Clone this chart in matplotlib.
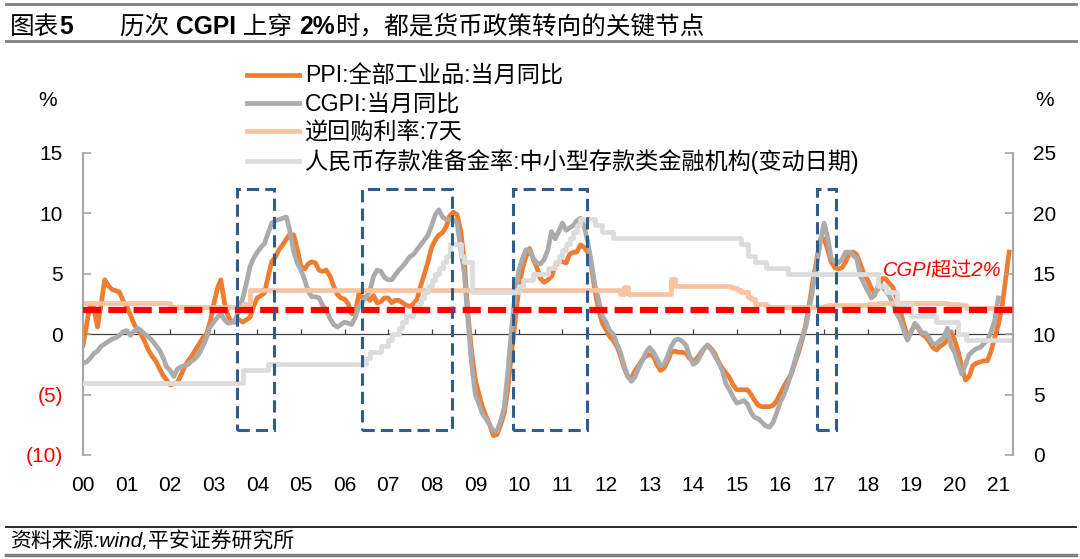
import matplotlib
matplotlib.use("Agg")
import pandas as pd
import matplotlib.pyplot as plt
import matplotlib.dates as mdates
from matplotlib.patches import Rectangle
from matplotlib.lines import Line2D

plt.rcParams['font.family'] = ['Liberation Sans', 'Noto Sans CJK SC']

# PPI:全部工业品:当月同比, monthly from 2000-01
ppi = [
    -0.9, 0.8, 2.5, 2.2, 0.6, 2.5, 4.5, 4.0, 3.7, 3.6, 3.5, 2.8,      # 2000
    2.3, 1.6, 0.9, 0.3, 0.0, -0.6, -1.3, -1.8, -2.2, -2.8, -3.4, -3.8,  # 2001
    -4.2, -4.1, -4.0, -3.4, -2.7, -2.2, -1.8, -1.3, -0.8, -0.3, 0.0, 1.0,  # 2002
    2.5, 3.8, 4.5, 2.6, 1.5, 1.0, 1.0, 1.2, 1.0, 1.2, 1.4, 2.3,       # 2003
    3.0, 3.2, 3.4, 4.8, 6.0, 6.4, 7.0, 7.4, 7.9, 8.3, 8.2, 7.0,       # 2004
    5.6, 5.4, 5.8, 6.0, 5.9, 5.3, 5.2, 5.3, 4.8, 4.0, 3.3, 3.0,       # 2005
    2.9, 2.5, 1.7, 1.7, 3.4, 3.0, 3.1, 2.8, 3.2, 2.6, 2.7, 3.0,       # 2006
    3.0, 2.6, 2.8, 2.8, 2.6, 2.4, 2.3, 2.5, 2.9, 4.0, 5.0, 6.0,       # 2007
    7.2, 7.8, 8.2, 8.4, 8.9, 9.8, 10.1, 9.9, 8.5, 6.0, 1.5, -1.5,     # 2008
    -3.8, -5.0, -6.0, -6.8, -7.5, -8.4, -8.3, -7.5, -6.5, -4.4, -1.5, 1.2,  # 2009
    3.8, 5.5, 6.4, 7.1, 6.2, 5.5, 4.6, 4.3, 4.5, 4.8, 5.6, 6.0,       # 2010
    6.0, 5.9, 6.6, 6.8, 6.8, 7.4, 7.2, 6.8, 5.6, 3.5, 2.0, 0.9,       # 2011
    0.4, -0.2, -0.5, -1.0, -1.8, -2.8, -3.5, -3.6, -3.0, -2.6, -2.1, -1.8,  # 2012
    -1.7, -1.8, -2.5, -3.0, -2.8, -2.2, -1.5, -1.4, -1.5, -1.5, -1.6, -2.0,  # 2013
    -2.2, -2.0, -1.6, -1.2, -0.9, -1.2, -1.6, -2.3, -2.8, -3.2, -3.6, -4.2,  # 2014
    -4.6, -4.6, -4.6, -4.6, -5.0, -5.5, -5.9, -6.0, -6.0, -6.0, -5.9, -5.5,  # 2015
    -4.9, -4.3, -3.8, -3.3, -2.4, -1.5, -0.5, 0.8, 2.6, 4.5, 6.2, 7.9,  # 2016
    7.9, 7.0, 6.0, 5.5, 5.4, 5.5, 6.0, 6.7, 6.8, 6.6, 5.8, 5.0,       # 2017
    4.5, 3.8, 3.4, 3.8, 4.6, 4.6, 4.2, 3.9, 3.0, 2.0, 0.8, -0.2,      # 2018
    0.2, 0.8, 0.5, 0.0, -0.2, -0.6, -1.1, -1.3, -1.0, -0.8, -0.5, 0.2,  # 2019
    -0.5, -1.5, -2.8, -3.8, -3.5, -2.6, -2.4, -2.3, -2.2, -2.2, -1.4, -0.3,  # 2020
    0.8, 2.3, 4.4, 6.8,                                              # 2021
]

# CGPI:当月同比, monthly from 2000-01
cgpi = [
    -2.4, -2.3, -2.0, -1.6, -1.4, -1.0, -0.8, -0.6, -0.4, -0.3, -0.1, 0.2,  # 2000
    0.3, -0.1, 0.2, 0.5, 0.3, 0.0, -0.2, -0.5, -0.9, -1.3, -1.9, -2.7,  # 2001
    -3.0, -3.5, -2.9, -2.7, -2.6, -2.5, -2.2, -2.0, -1.6, -1.0, -0.3, 0.6,  # 2002
    1.0, 1.4, 1.7, 1.2, 0.9, 1.0, 1.2, 2.0, 3.0, 4.2, 5.6, 6.3,       # 2003
    6.8, 7.2, 7.5, 8.4, 9.2, 9.4, 9.5, 9.6, 9.7, 8.5, 6.8, 5.9,       # 2004
    5.3, 4.5, 3.6, 3.1, 3.1, 3.0, 2.4, 2.0, 1.3, 0.8, 0.6, 0.8,       # 2005
    1.0, 0.9, 0.8, 1.4, 2.3, 2.7, 3.1, 3.6, 4.8, 5.3, 5.2, 4.7,       # 2006
    4.5, 4.5, 4.9, 5.3, 5.6, 6.0, 6.4, 6.6, 7.0, 7.4, 7.8, 8.2,       # 2007
    9.0, 9.9, 10.3, 9.7, 9.5, 9.5, 9.5, 9.2, 7.0, 5.0, 1.0, -2.5,     # 2008
    -5.0, -5.8, -6.6, -7.0, -7.5, -8.0, -8.0, -7.2, -6.0, -3.0, 0.5, 3.5,  # 2009
    5.3, 6.3, 7.0, 6.9, 6.3, 5.9, 5.8, 6.2, 7.0, 8.5, 7.9, 8.5,       # 2010
    9.2, 8.6, 8.8, 9.0, 9.4, 9.6, 9.0, 7.6, 5.9, 4.0, 2.8, 1.5,       # 2011
    1.0, 0.3, 0.0, -0.8, -1.5, -2.6, -3.5, -3.9, -3.5, -2.8, -2.2, -1.5,  # 2012
    -1.1, -1.5, -2.0, -2.6, -2.5, -1.8, -1.0, -0.5, -0.4, -0.6, -0.9, -1.8,  # 2013
    -2.5, -2.3, -1.8, -1.2, -0.9, -1.3, -1.8, -2.3, -3.0, -4.1, -4.6, -5.2,  # 2014
    -5.7, -5.6, -5.5, -5.8, -6.5, -6.9, -7.0, -7.3, -7.6, -7.7, -7.3, -6.5,  # 2015
    -5.6, -5.0, -4.2, -3.3, -2.2, -1.2, -0.3, 0.6, 2.2, 3.9, 5.8, 7.6,  # 2016
    9.2, 8.0, 6.3, 6.0, 5.9, 6.2, 6.8, 6.8, 6.5, 6.3, 4.8, 4.2,       # 2017
    3.6, 3.0, 3.2, 4.1, 4.0, 3.6, 3.2, 2.5, 1.7, 1.2, 0.3, -0.5,      # 2018
    0.2, 0.9, 0.6, 0.1, 0.1, -0.3, -0.8, -0.8, -0.5, -0.3, 0.5, -1.0,  # 2019
    -1.5, -2.5, -3.3, -2.5, -1.7, -1.4, -1.2, -1.1, -0.8, -0.5, 0.2, 1.1,  # 2020
    3.0,                                                             # 2021
]

# 逆回购利率:7天 (change dates and level)
repo_dates = ['2000-01', '2002-01', '2003-09', '2003-11', '2012-05', '2012-06',
              '2012-07', '2013-07', '2013-08', '2014-11', '2014-12', '2015-01',
              '2015-02', '2015-04', '2015-05', '2015-06', '2015-09', '2015-10',
              '2017-01', '2017-02', '2017-03', '2018-01', '2018-04', '2019-11',
              '2020-02', '2020-04', '2021-05']
repo_rate = [2.6, 2.25, 2.5, 3.7, 3.35, 3.9,
             3.35, 4.6, 4.0, 3.9, 3.8, 3.65,
             3.5, 3.1, 2.9, 2.5, 2.35, 2.25,
             2.3, 2.4, 2.45, 2.5, 2.55, 2.5,
             2.4, 2.2, 2.2]

# 人民币存款准备金率:中小型存款类金融机构 (change dates and level, right axis)
rrr_dates = ['2000-01', '2003-09', '2004-04', '2006-07', '2006-08', '2006-11',
             '2007-01', '2007-02', '2007-04', '2007-05', '2007-06', '2007-08',
             '2007-09', '2007-10', '2007-11', '2007-12', '2008-01', '2008-02',
             '2008-03', '2008-04', '2008-05', '2008-06', '2008-09', '2008-10',
             '2008-12', '2010-01', '2010-02', '2010-05', '2010-09', '2010-11',
             '2010-12', '2011-01', '2011-02', '2011-03', '2011-04', '2011-05',
             '2011-06', '2011-10', '2011-12', '2012-03', '2015-02', '2015-04',
             '2015-06', '2015-09', '2016-03', '2018-04', '2018-06', '2018-09',
             '2019-01', '2019-08', '2020-02', '2020-04', '2021-05']
rrr_rate = [6.0, 7.0, 7.5, 8.0, 8.5, 9.0,
            9.5, 10.0, 10.5, 11.0, 11.5, 12.0,
            12.5, 13.0, 13.5, 14.0, 14.5, 15.0,
            15.5, 16.0, 16.5, 17.5, 16.5, 16.0,
            13.5, 14.0, 14.5, 15.0, 15.5, 16.0,
            16.5, 17.0, 17.5, 18.0, 18.5, 19.0,
            19.5, 19.0, 18.5, 18.0, 17.5, 16.5,
            16.0, 15.5, 15.0, 14.0, 13.5, 12.5,
            11.5, 11.0, 10.0, 9.5, 9.5]

# periods where CGPI crossed 2% (highlight boxes)
box_spans = [('2003-07-12', '2004-05-18'), ('2006-05-26', '2008-06-21'),
             ('2009-11-12', '2011-07-22'), ('2016-10-31', '2017-04-08')]
box_low, box_high = -7.9, 12.0

years = list(range(2000, 2022))
year_labels = ['%02d' % (y % 100) for y in years]
left_ticks = [15, 10, 5, 0, -5, -10]
left_labels = ['15', '10', '5', '0', '(5)', '(10)']
right_ticks = [25, 20, 15, 10, 5, 0]
threshold = 2

names = ['PPI:全部工业品:当月同比', 'CGPI:当月同比', '逆回购利率:7天',
         '人民币存款准备金率:中小型存款类金融机构(变动日期)']
colors = ['#ED7D31', '#ABABAB', '#F7C3A0', '#DCDCDC']

W, H = 1080, 559
fig = plt.figure(figsize=(W / 100, H / 100), dpi=100)
ax = fig.add_axes([83 / W, 104 / H, 929.7 / W, 302 / H])
ax2 = ax.twinx()

x_ppi = pd.date_range('2000-01-01', periods=len(ppi), freq='MS')
x_cgpi = pd.date_range('2000-01-01', periods=len(cgpi), freq='MS')
lw = 3.4
l1, = ax.plot(x_ppi, ppi, color=colors[0], lw=lw, solid_joinstyle='round')
l2, = ax.plot(x_cgpi, cgpi, color=colors[1], lw=lw, solid_joinstyle='round')
l3, = ax.plot(pd.to_datetime(repo_dates), repo_rate, color=colors[2], lw=lw,
              drawstyle='steps-post')
l4, = ax2.plot(pd.to_datetime(rrr_dates), rrr_rate, color=colors[3], lw=lw,
               drawstyle='steps-post')
ax.axhline(0, color='#404040', lw=0.9, zorder=0.5)

# red 2% line and boxes on top of everything
ax2.plot(pd.to_datetime(['2000-01-01', '2021-06-15']), [threshold, threshold],
         transform=ax.transData, color='#FF0000', lw=4.5, dashes=(2.9, 1.15),
         clip_on=False, zorder=5)
for s, e in box_spans:
    x0 = mdates.date2num(pd.Timestamp(s))
    x1 = mdates.date2num(pd.Timestamp(e))
    ax2.add_patch(Rectangle((x0, box_low), x1 - x0, box_high - box_low,
                            transform=ax.transData, fill=False,
                            edgecolor='#2F5C8C', lw=2.2, linestyle=(0, (4, 2)),
                            zorder=6, clip_on=False))
ax2.text(mdates.date2num(pd.Timestamp('2018-05-08')), 5.2, 'CGPI超过2%',
         transform=ax.transData, color='#FF0000', fontsize=14.5,
         style='italic', va='center', ha='left', zorder=7)

# axes
ax.set_xlim(pd.Timestamp('2000-01-01'), pd.Timestamp('2021-05-01'))
ax.set_ylim(-10, 15)
ax2.set_ylim(0, 25)
year_ticks = pd.to_datetime(['%d-01-01' % y for y in years])

# tick marks sit on the zero line, labels at the bottom edge (via twin axis)
ax.spines['bottom'].set_position(('data', 0))
ax.spines['bottom'].set_visible(False)
ax.set_xticks(year_ticks)
ax.tick_params(axis='x', direction='in', length=3.6, width=0.9,
               color='#404040', labelbottom=False)
ax2.xaxis.set_visible(True)
ax2.set_xticks(year_ticks)
ax2.set_xticklabels(year_labels)
ax2.tick_params(axis='x', length=0, pad=14.8, labelsize=15)

ax.set_yticks(left_ticks)
ax.set_yticklabels(left_labels)
ax.tick_params(axis='y', direction='in', length=6, width=1.2, color='#A6A6A6',
               pad=14.4, labelsize=15)
for t, v in zip(ax.get_yticklabels(), left_ticks):
    t.set_color('#FF0000' if v < 0 else 'black')
ax2.set_yticks(right_ticks)
ax2.tick_params(axis='y', direction='in', length=6, width=1.2, color='#A6A6A6',
                pad=14.4, labelsize=15)

ax.spines['top'].set_visible(False)
ax2.spines['top'].set_visible(False)
ax2.spines['bottom'].set_visible(False)
ax.spines['right'].set_visible(False)
ax2.spines['left'].set_visible(False)
ax.spines['left'].set_color('#A6A6A6')
ax.spines['left'].set_linewidth(1.5)
ax2.spines['right'].set_color('#A6A6A6')
ax2.spines['right'].set_linewidth(1.5)

fig.text(48 / W, 1 - 100 / H, '%', ha='center', va='center', fontsize=15)
fig.text(1045 / W, 1 - 100 / H, '%', ha='center', va='center', fontsize=15)

fig.legend([l1, l2, l3, l4], names, loc='upper left',
           bbox_to_anchor=(247 / W, 1 - 65 / H), frameon=False, fontsize=16.7,
           handlelength=2.24, handletextpad=0.26, labelspacing=0.22,
           borderpad=0, borderaxespad=0)


# title with mixed weights
def rich_text(x, y, parts, size):
    t = fig.text(x, y, parts[0][0], fontsize=size, fontweight=parts[0][1],
                 va='bottom', ha='left')
    for s, w in parts[1:]:
        t = ax.annotate(s, xy=(1, 0), xycoords=t, va='bottom', ha='left',
                        fontsize=size, fontweight=w, annotation_clip=False)
    return t


ty = 1 - 38.5 / H
rich_text(10 / W, ty, [('图表', 'normal'), ('5', 'bold')], 17.7)
rich_text(120 / W, ty, [('历次 ', 'normal'), ('CGPI', 'bold'), (' 上穿 ', 'normal'),
                        ('2%', 'bold'), ('时，都是货币政策转向的关键节点', 'normal')], 17.7)

for yy, c, w in [(4, '#808080', 2.0), (41, '#808080', 2.0),
                 (527, '#1A1A1A', 1.3), (555, '#808080', 2.5)]:
    fig.add_artist(Line2D([0.006, 0.996], [1 - yy / H, 1 - yy / H],
                          color=c, lw=w, transform=fig.transFigure))
fig.text(10 / W, 1 - 541 / H, '资料来源:wind,平安证券研究所', fontsize=15,
         style='italic', va='center', ha='left')

fig.savefig('out.png', dpi=100)
